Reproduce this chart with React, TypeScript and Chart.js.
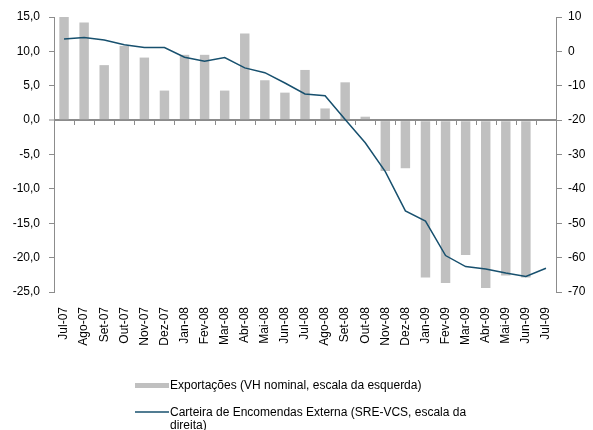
import React, { useEffect, useRef } from 'react';
import { Chart, registerables } from 'chart.js';
Chart.register(...registerables);

const categories = [
  'Jul-07', 'Ago-07', 'Set-07', 'Out-07', 'Nov-07', 'Dez-07', 'Jan-08', 'Fev-08', 'Mar-08',
  'Abr-08', 'Mai-08', 'Jun-08', 'Jul-08', 'Ago-08', 'Set-08', 'Out-08', 'Nov-08', 'Dez-08',
  'Jan-09', 'Fev-09', 'Mar-09', 'Abr-09', 'Mai-09', 'Jun-09', 'Jul-09',
];

const exportacoes = [
  15.0, 14.2, 8.0, 10.8, 9.1, 4.3, 9.5, 9.5, 4.3, 12.6, 5.8, 4.0, 7.3, 1.7, 5.5, 0.5,
  -7.4, -7.0, -22.9, -23.7, -19.6, -24.4, -22.6, -22.9, null,
];

const carteira = [
  3.6, 4.0, 3.3, 1.9, 1.1, 1.1, -1.7, -2.9, -1.8, -4.8, -6.2, -9.2, -12.4, -12.9, -19.8,
  -26.6, -35.0, -46.4, -49.4, -59.4, -62.6, -63.3, -64.5, -65.5, -63.1,
];

const leftTicks = { min: -25, max: 15, step: 5 };
const rightTicks = { min: -70, max: 10, step: 10 };

const labelBars = 'Exportações (VH nominal, escala da esquerda)';
const labelLine1 = 'Carteira de Encomendas Externa (SRE-VCS, escala da';
const labelLine2 = 'direita)';

const AXIS = '#8c8c8c';
const BAR = '#c0c0c0';
const LINE = '#17506e';
const FONT = '"Liberation Sans", Arial, sans-serif';

export default function App() {
  const ref = useRef<HTMLCanvasElement>(null);
  useEffect(() => {
    document.body.style.margin = '0';
    const canvas = ref.current!;
    const extras = {
      id: 'extras',
      afterDraw(chart: any) {
        const c = chart.ctx;
        const x = chart.scales.x;
        const y = chart.scales.y;
        const y0 = Math.round(y.getPixelForValue(0));
        const n = categories.length;
        c.save();
        c.strokeStyle = AXIS;
        c.lineWidth = 1;
        for (let i = 1; i < n; i++) {
          const px = Math.round(x.left + (i * (x.right - x.left)) / n) + 0.5;
          c.beginPath();
          c.moveTo(px, y0);
          c.lineTo(px, y0 + 5);
          c.stroke();
        }
        // legend
        c.fillStyle = BAR;
        c.fillRect(135, 383, 34, 5);
        c.strokeStyle = LINE;
        c.lineWidth = 1.5;
        c.beginPath();
        c.moveTo(135, 412);
        c.lineTo(169, 412);
        c.stroke();
        c.fillStyle = '#000';
        c.font = '12px ' + FONT;
        c.textBaseline = 'middle';
        c.textAlign = 'left';
        c.fillText(labelBars, 170, 386);
        c.fillText(labelLine1, 170, 413);
        c.fillText(labelLine2, 170, 426);
        c.restore();
      },
    };
    const chart = new Chart(canvas, {
      type: 'bar',
      data: {
        labels: categories,
        datasets: [
          {
            type: 'line',
            label: labelLine1 + ' ' + labelLine2,
            data: carteira,
            yAxisID: 'y1',
            borderColor: LINE,
            borderWidth: 1.5,
            pointRadius: 0,
            tension: 0,
            order: 1,
          } as any,
          {
            type: 'bar',
            label: labelBars,
            data: exportacoes,
            yAxisID: 'y',
            backgroundColor: BAR,
            barPercentage: 0.47,
            categoryPercentage: 1,
            order: 2,
          },
        ],
      },
      options: {
        animation: false,
        responsive: false,
        layout: { padding: { top: 17, left: 0, right: 0, bottom: 0 } },
        plugins: { legend: { display: false }, tooltip: { enabled: false } },
        font: { family: FONT, size: 12 } as any,
        scales: {
          x: {
            grid: { display: false, drawTicks: false },
            border: { display: false },
            ticks: {
              autoSkip: false,
              maxRotation: 90,
              minRotation: 90,
              padding: 15,
              color: '#000',
              font: { family: FONT, size: 12 },
            },
            afterFit: (s: any) => { s.height = 138; },
          },
          y: {
            position: 'left',
            min: leftTicks.min,
            max: leftTicks.max,
            grid: {
              drawOnChartArea: true,
              color: (ctx: any) => (ctx.tick && ctx.tick.value === 0 ? AXIS : 'rgba(0,0,0,0)'),
              lineWidth: (ctx: any) => (ctx.tick && ctx.tick.value === 0 ? 2 : 1),
              tickColor: AXIS,
              tickWidth: 1,
              tickLength: 5,
            },
            border: { display: true, color: AXIS, width: 1 },
            ticks: {
              stepSize: leftTicks.step,
              padding: 9,
              color: '#000',
              font: { family: FONT, size: 12 },
              callback: (v: any) => Number(v).toFixed(1).replace('.', ','),
            },
            afterFit: (s: any) => { s.width = 54; },
          },
          y1: {
            position: 'right',
            min: rightTicks.min,
            max: rightTicks.max,
            grid: { drawOnChartArea: false, tickColor: AXIS, tickLength: 6, color: AXIS },
            border: { display: true, color: AXIS, width: 1 },
            ticks: {
              stepSize: rightTicks.step,
              padding: 6,
              color: '#000',
              font: { family: FONT, size: 12 },
            },
            afterFit: (s: any) => { s.width = 37; },
          },
        },
      },
      plugins: [extras],
    });
    return () => chart.destroy();
  }, []);
  return <canvas ref={ref} width={593} height={430} style={{ display: 'block' }} />;
}
